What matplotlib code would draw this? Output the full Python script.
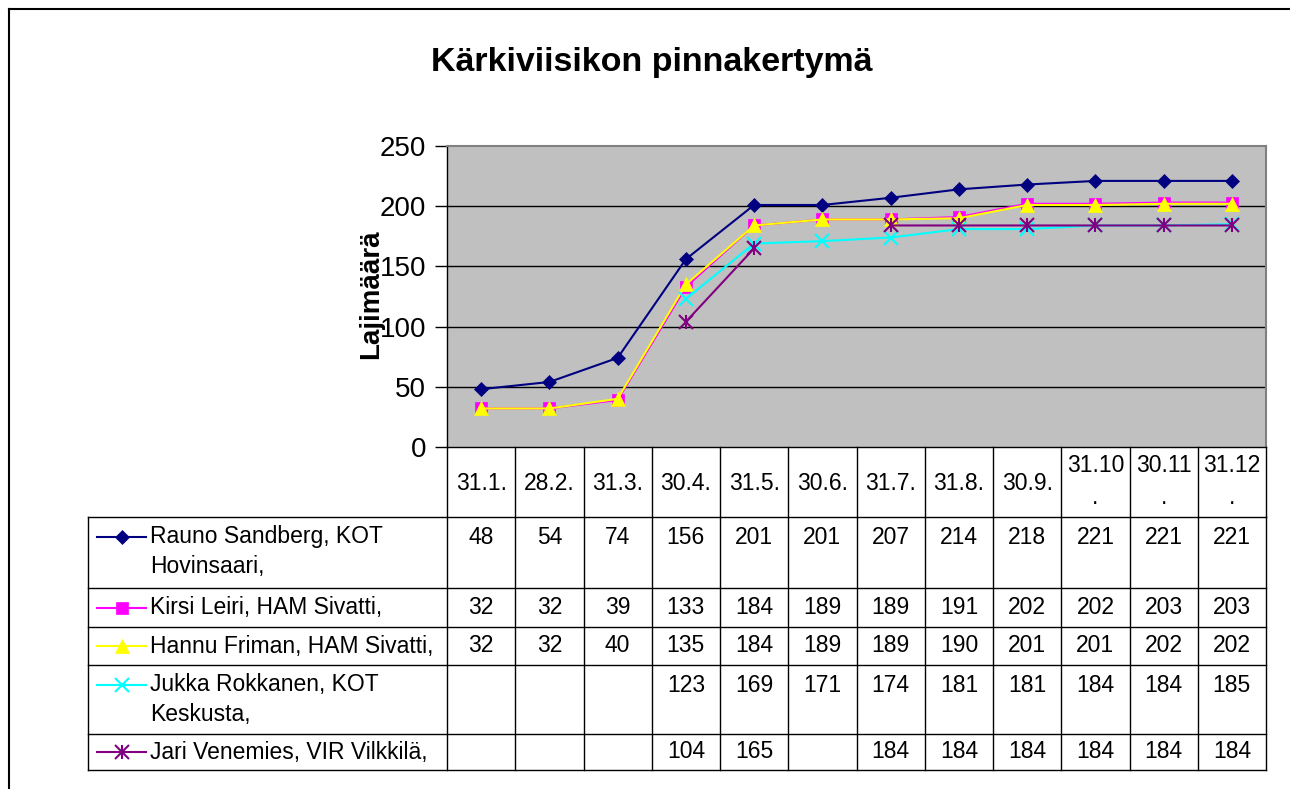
import numpy as np
import matplotlib
matplotlib.use("Agg")
import matplotlib.pyplot as plt
from matplotlib.lines import Line2D

plt.rcParams['font.family'] = ['Liberation Sans', 'DejaVu Sans']

title = "Kärkiviisikon pinnakertymä"
ylabel = "Lajimäärä"
categories = ["31.1.", "28.2.", "31.3.", "30.4.", "31.5.", "30.6.", "31.7.",
              "31.8.", "30.9.", "31.10\n.", "30.11\n.", "31.12\n."]
series_names = ["Rauno Sandberg, KOT\nHovinsaari,",
                "Kirsi Leiri, HAM Sivatti,",
                "Hannu Friman, HAM Sivatti,",
                "Jukka Rokkanen, KOT\nKeskusta,",
                "Jari Venemies, VIR Vilkkilä,"]
rauno = [48, 54, 74, 156, 201, 201, 207, 214, 218, 221, 221, 221]
kirsi = [32, 32, 39, 133, 184, 189, 189, 191, 202, 202, 203, 203]
hannu = [32, 32, 40, 135, 184, 189, 189, 190, 201, 201, 202, 202]
jukka = [None, None, None, 123, 169, 171, 174, 181, 181, 184, 184, 185]
jari = [None, None, None, 104, 165, None, 184, 184, 184, 184, 184, 184]
yticks = [0, 50, 100, 150, 200, 250]

series = [rauno, kirsi, hannu, jukka, jari]
colors = ["#000080", "#FF00FF", "#FFFF00", "#00FFFF", "#800080"]
markers = ["D", "s", "^", "x", "x"]
msizes = [7, 8, 10, 10, 10]

W, H = 1290, 789
fig = plt.figure(figsize=(W / 100, H / 100), dpi=100)
fig.patch.set_facecolor("white")

def fx(px):
    return px / W

def fy(py):
    return 1 - py / H

TFS = 16.5

# outer frame (top & left)
fig.add_artist(Line2D([fx(9), fx(1290)], [fy(9), fy(9)], color="black", lw=1.5))
fig.add_artist(Line2D([fx(9), fx(9)], [fy(9), fy(789)], color="black", lw=1.5))

# title
fig.text(fx(652), fy(62), title, ha="center", va="center", fontsize=24.5, fontweight="bold")

# plot area
L, R, T, B = 447, 1266, 146, 447
ax = fig.add_axes([fx(L), fy(B), fx(R) - fx(L), fy(T) - fy(B)])
ax.set_facecolor("#C0C0C0")
x = np.arange(len(categories))
ax.set_xlim(-0.5, len(categories) - 0.5)
ax.set_ylim(0, 250)
ax.set_yticks(yticks)
ax.set_yticklabels([str(v) for v in yticks], fontsize=20)
ax.tick_params(axis="y", length=9, width=1, color="black", pad=6)
ax.set_xticks([])
for v in yticks[1:-1]:
    ax.axhline(v, color="black", lw=1, zorder=1)
for s in ["top", "right"]:
    ax.spines[s].set_color("#808080")
    ax.spines[s].set_linewidth(1.5)
for s in ["left", "bottom"]:
    ax.spines[s].set_color("black")
    ax.spines[s].set_linewidth(1)

for i, (vals, c, m, ms) in enumerate(zip(series, colors, markers, msizes)):
    y = np.array([np.nan if v is None else v for v in vals], dtype=float)
    ax.plot(x, y, color=c, lw=1.5, marker=m, markersize=ms,
            markeredgewidth=1.5 if m == "x" else 0.5,
            markeredgecolor=c, markerfacecolor=c, zorder=3 + i)
    if i == 4:
        ax.plot(x, y, ls="none", marker="|", markersize=10, markeredgewidth=1.5, color=c, zorder=3 + i)

fig.text(fx(371), fy(294), ylabel, rotation=90, ha="center", va="center",
         fontsize=20, fontweight="bold")

# data table
col_w = (R - L) / len(categories)
col_edges = [L + k * col_w for k in range(len(categories) + 1)]
row_edges = [517, 588, 627, 665, 734, 770]
tleft = 88
lc = "black"
tlw = 1.0

# header row
for xe in col_edges:
    fig.add_artist(Line2D([fx(xe), fx(xe)], [fy(B), fy(row_edges[0])], color=lc, lw=tlw))
for k, cat in enumerate(categories):
    cx = (col_edges[k] + col_edges[k + 1]) / 2
    parts = cat.split("\n")
    if len(parts) == 1:
        fig.text(fx(cx), fy(484), cat, ha="center", va="center", fontsize=TFS)
    else:
        fig.text(fx(cx), fy(465), parts[0], ha="center", va="center", fontsize=TFS)
        fig.text(fx(cx), fy(497), parts[1], ha="center", va="center", fontsize=TFS)

# body lines
for ye in row_edges:
    fig.add_artist(Line2D([fx(tleft), fx(R)], [fy(ye), fy(ye)], color=lc, lw=tlw))
for xe in [tleft] + col_edges:
    fig.add_artist(Line2D([fx(xe), fx(xe)], [fy(row_edges[0]), fy(row_edges[-1])], color=lc, lw=tlw))

for r, (name, vals, c, m, ms) in enumerate(zip(series_names, series, colors, markers, msizes)):
    top = row_edges[r]
    bot = row_edges[r + 1]
    nlines = len(name.split("\n"))
    if nlines == 1:
        ty = (top + bot) / 2
    else:
        ty = top + 20
    # legend key
    fig.add_artist(Line2D([fx(97), fx(146)], [fy(ty), fy(ty)], color=c, lw=1.5))
    fig.add_artist(Line2D([fx(121.5)], [fy(ty)], color=c, marker=m, markersize=ms,
                          markeredgewidth=1.5 if m == "x" else 0.5, markeredgecolor=c, markerfacecolor=c))
    if r == 4:
        fig.add_artist(Line2D([fx(121.5)], [fy(ty)], color=c, marker="|", markersize=10, markeredgewidth=1.5))
    for li, line in enumerate(name.split("\n")):
        fig.text(fx(150), fy(ty + li * 30), line, ha="left", va="center", fontsize=TFS)
    for k, v in enumerate(vals):
        if v is None:
            continue
        cx = (col_edges[k] + col_edges[k + 1]) / 2
        fig.text(fx(cx), fy(ty), str(v), ha="center", va="center", fontsize=TFS)

fig.savefig("out.png", dpi=100, facecolor="white")
